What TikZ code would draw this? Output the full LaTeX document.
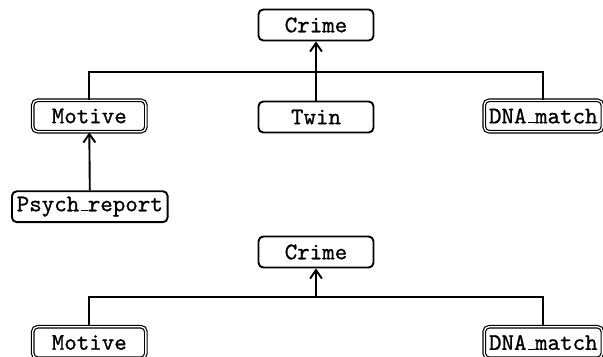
\documentclass[tikz,border=0pt]{standalone}
\usepackage{fontspec}
\usetikzlibrary{arrows.meta}
\newfontfamily\tth{lmmono10-regular.otf}[FakeBold=0.8]
\newcommand\usc{\leavevmode\kern.06em\vbox{\hrule width.3em height 0.5pt}}
\begin{document}
\begin{tikzpicture}[x=0.42pt,y=-0.42pt,
  box/.style={draw,rounded corners=2pt,line width=0.8pt,font=\tth\fontsize{10pt}{12pt}\selectfont,
    minimum width=48.3pt,minimum height=13pt,inner sep=2pt},
  dbox/.style={box,line width=0.5pt,double,double distance=0.55pt,minimum width=47.5pt,minimum height=13.2pt},
  conn/.style={line width=0.8pt},
  arr/.style={conn,-{Straight Barb[length=3.6pt,width=5pt,line width=0.8pt]}}]
\clip (0,0) rectangle (603,356);
\node[box] (C1) at (316,25) {Crime};
\node[dbox] (M1) at (89.3,116) {Motive};
\node[box] (T1) at (316,117) {Twin};
\node[dbox] (D1) at (543.3,116) {DNA\usc match};
\node[box] (P1) at (89.8,206.7) {Psych\usc report};
\coordinate (j1) at (316,71.7);
\draw[conn] (M1.north) |- (j1) -| (D1.north);
\draw[arr] (T1.north) -- (C1.south);
\draw[arr] (P1.north) -- (M1.south);
\node[box] (C2) at (316,252) {Crime};
\node[dbox] (M2) at (89.3,342.5) {Motive};
\node[dbox] (D2) at (543.3,342.5) {DNA\usc match};
\coordinate (j2) at (316,296.7);
\draw[conn] (M2.north) |- (j2) -| (D2.north);
\draw[arr] (j2) -- (C2.south);
\end{tikzpicture}
\end{document}
